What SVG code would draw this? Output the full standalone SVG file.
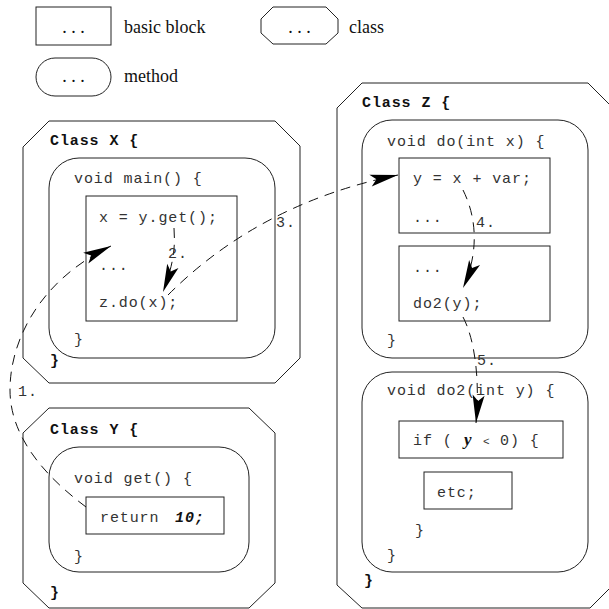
<svg xmlns="http://www.w3.org/2000/svg" width="609" height="609" viewBox="0 0 609 609">
<style>
.shape{fill:#fff;stroke:#222;stroke-width:1}
.inner{fill:none;stroke:#222;stroke-width:1}
.serif{font-family:"Liberation Serif","Times New Roman",serif;font-size:18px;fill:#111}
.code{font-family:"Liberation Mono","Courier New",monospace;font-size:15px;letter-spacing:0.9px;fill:#333}
.cls{font-family:"Liberation Mono","Courier New",monospace;font-size:15px;letter-spacing:0.9px;font-weight:bold;fill:#111}
.bi{font-weight:bold;font-style:italic;fill:#111}
.conn{fill:none;stroke:#111;stroke-width:1;stroke-dasharray:10 7}
</style>
<defs>
<marker id="ah" viewBox="-30 -8 32 16" markerWidth="32" markerHeight="16" refX="0" refY="0" orient="auto" markerUnits="userSpaceOnUse" overflow="visible">
<path d="M0,0 L-28,-6 L-22,0 L-28,6 Z" fill="#000"/>
</marker>
</defs>
<rect width="609" height="609" fill="#fff"/>

<g id="legend-basic-block">
<rect class="shape" x="36" y="7" width="75" height="38"/>
<text class="serif" x="73.5" y="33" text-anchor="middle">. . .</text>
<text class="serif" x="124" y="33">basic block</text>
</g>
<g id="legend-class">
<polygon class="shape" points="273,7 326,7 338,19 338,33 326,44 273,44 261,33 261,19"/>
<text class="serif" x="299.5" y="33" text-anchor="middle">. . .</text>
<text class="serif" x="349" y="33">class</text>
</g>
<g id="legend-method">
<rect class="shape" x="36" y="58" width="75" height="38" rx="19" ry="19"/>
<text class="serif" x="73.5" y="82" text-anchor="middle">. . .</text>
<text class="serif" x="124" y="82">method</text>
</g>

<g id="class-x">
<polygon class="shape" points="49,121 275,121 300,146 300,358 275,383 49,383 23,358 23,147"/>
<text class="cls" x="50" y="145">Class X {</text>
<text class="cls" x="50" y="365">}</text>
</g>
<g id="method-main">
<rect class="inner" x="49" y="158" width="226" height="200" rx="30" ry="30"/>
<text class="code" x="74" y="183">void main() {</text>
<text class="code" x="74" y="344">}</text>
</g>
<g id="block-main">
<rect class="inner" x="86" y="196" width="151" height="125"/>
<text class="code" x="99" y="222">x = y.get();</text>
<text class="code" x="99" y="270">...</text>
<text class="code" x="99" y="307">z.do(x);</text>
</g>

<g id="class-y">
<polygon class="shape" points="49,408 249,408 275,433 275,583 249,608 49,608 23,583 23,433"/>
<text class="cls" x="50" y="434">Class Y {</text>
<text class="cls" x="50" y="597">}</text>
</g>
<g id="method-get">
<rect class="inner" x="49" y="447" width="200" height="125" rx="30" ry="30"/>
<text class="code" x="74" y="483">void get() {</text>
<text class="code" x="74" y="561">}</text>
</g>
<g id="block-get">
<rect class="inner" x="86" y="497" width="138" height="37"/>
<text class="code" x="100" y="522">return<tspan class="bi" x="175">10;</tspan></text>
</g>

<g id="class-z">
<polygon class="shape" points="362,83 588,83 613,108 613,585 590,608 362,608 337,585 337,108"/>
<text class="cls" x="362" y="107">Class Z {</text>
<text class="cls" x="364" y="585">}</text>
</g>
<g id="method-do">
<rect class="inner" x="362" y="120" width="226" height="238" rx="30" ry="30"/>
<text class="code" x="387" y="146">void do(int x) {</text>
<text class="code" x="387" y="345">}</text>
</g>
<g id="block-do-1">
<rect class="inner" x="399" y="158" width="151" height="75"/>
<text class="code" x="413" y="183">y = x + var;</text>
<text class="code" x="413" y="222">...</text>
</g>
<g id="block-do-2">
<rect class="inner" x="399" y="246" width="151" height="75"/>
<text class="code" x="413" y="272">...</text>
<text class="code" x="413" y="308">do2(y);</text>
</g>
<g id="method-do2">
<rect class="inner" x="362" y="372" width="226" height="200" rx="30" ry="30"/>
<text class="code" x="387" y="395">void do2(int y) {</text>
<text class="code" x="387" y="560">}</text>
</g>
<g id="block-if">
<rect class="inner" x="399" y="421" width="164" height="37"/>
<text class="code" x="413" y="445">if (<tspan x="464" style="font-family:'Liberation Serif','Times New Roman',serif;font-size:17px;font-weight:bold;font-style:italic;letter-spacing:0;fill:#111">y</tspan><tspan x="483" style="font-size:11px;letter-spacing:0">&lt;</tspan><tspan x="500">0) {</tspan></text>
<text class="code" x="415" y="535">}</text>
</g>
<g id="block-etc">
<rect class="inner" x="424" y="472" width="88" height="37"/>
<text class="code" x="437" y="497">etc;</text>
</g>

<g id="connectors">
<path class="conn" d="M86,507 C50,480 10,440 10,390 S40,280 111,246" marker-end="url(#ah)"/>
<path class="conn" d="M174,228 C175,245 175,260 163,292" marker-end="url(#ah)"/>
<path class="conn" d="M168,295 Q260,203 398,175" marker-end="url(#ah)"/>
<path class="conn" d="M463,190 C478,220 478,255 463,288" marker-end="url(#ah)"/>
<path class="conn" d="M463,317 C475,340 480,380 476,423" marker-end="url(#ah)"/>
<text class="code" x="18" y="396">1.</text>
<text class="code" x="168" y="258">2.</text>
<text class="code" x="276" y="227">3.</text>
<text class="code" x="476" y="227">4.</text>
<text class="code" x="477" y="365">5.</text>
</g>
</svg>
